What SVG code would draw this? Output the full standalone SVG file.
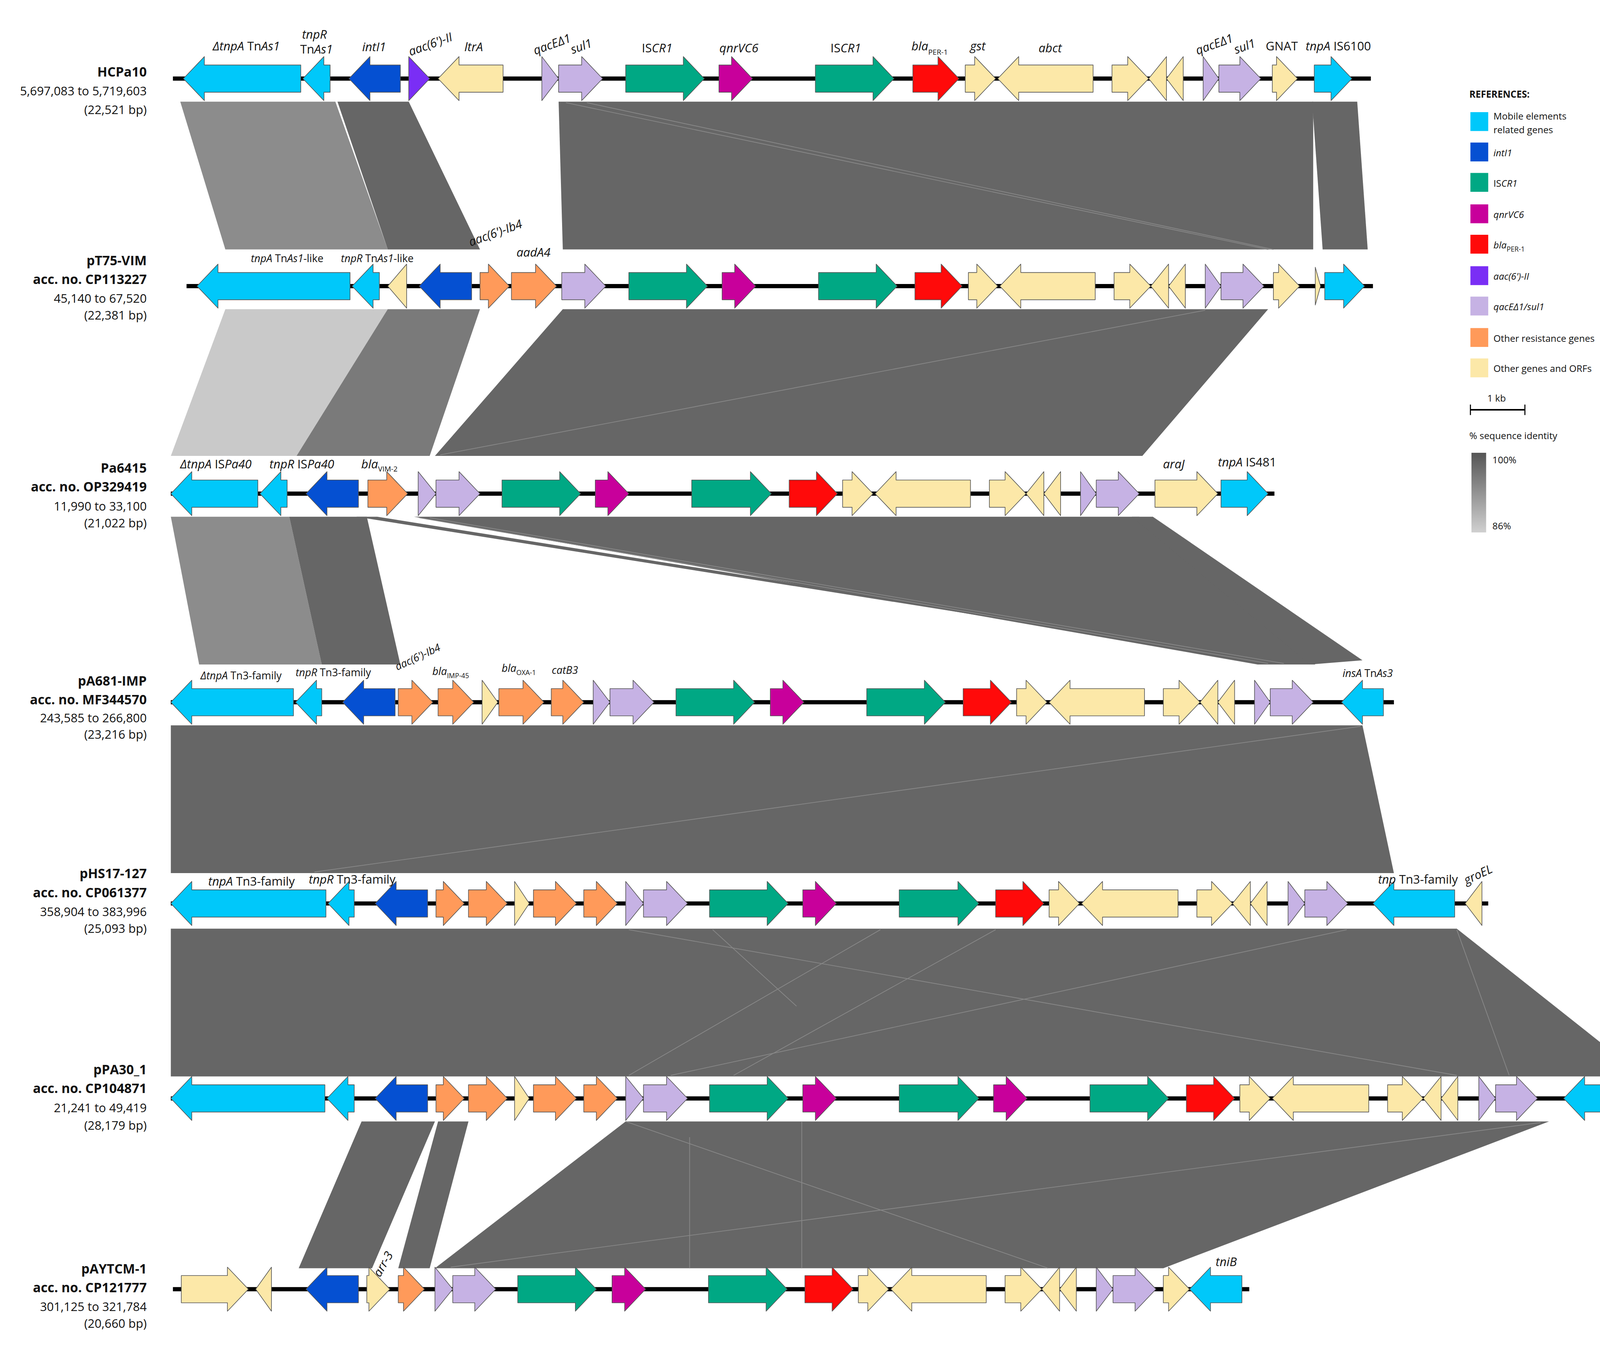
<svg xmlns="http://www.w3.org/2000/svg" width="4207" height="3443" viewBox="0 0 4207 3443">
<style>
text{font-family:"Open Sans","Liberation Sans",sans-serif;fill:#111}
.n{font-size:12.5px;font-weight:bold;text-anchor:end}
.c{font-size:11.5px;text-anchor:end}
.g{font-size:11.5px;font-style:italic;text-anchor:middle}
.gs{font-size:10px;font-style:italic;text-anchor:middle}
.u{font-style:normal}
.l{font-size:9px}
polygon{stroke:#555;stroke-width:0.6;stroke-linejoin:round}
.cy{fill:#00C8FA}.bl{fill:#0550D2}.gr{fill:#00A884}.mg{fill:#C8009B}.rd{fill:#FF0A0A}.pu{fill:#7A2EF5}.lv{fill:#C6B2E4}.or{fill:#FF9A5A}.cr{fill:#FCE8A8}
.bd{fill:#666;stroke:none}.bm{fill:#7a7a7a;stroke:none}.bl2{fill:#8c8c8c;stroke:none}.bl3{fill:#c9c9c9;stroke:none}
.thin{stroke:#888;stroke-width:0.7;fill:none}
.trk{stroke:#000;stroke-width:4}
</style>
<defs><linearGradient id="idg" x1="0" y1="0" x2="0" y2="1"><stop offset="0" stop-color="#555"/><stop offset="1" stop-color="#d0d0d0"/></linearGradient></defs>
<rect width="4207" height="3443" fill="#fff"/>
<g transform="scale(2.683)">
<g id="connectors">
<polygon class="bl2" points="172,97 320,97 370,238 215,238"/>
<polygon class="bd" points="322,97 390,97 458,238 370,238"/>
<polygon class="bd" points="533,97 1253,97 1253,238 537,238"/>
<line class="thin" x1="540" y1="98" x2="1210" y2="238"/>
<line class="thin" x1="560" y1="98" x2="1215" y2="238"/>
<polygon class="bd" points="1252,97 1295,97 1305,238 1262,238"/>
<polygon class="bl3" points="215,295 370,295 300,435 163,435"/>
<polygon class="bm" points="370,295 458,295 410,435 283,435"/>
<polygon class="bd" points="537,295 1210,295 1090,435 415,435"/>
<line class="thin" x1="1150" y1="296" x2="420" y2="434"/>
<polygon class="bl2" points="163,493 276,493 307,634 190,634"/>
<polygon class="bd" points="276,493 350,493 382,634 307,634"/>
<polygon class="bd" points="340,493 360,493 1245,634 1230,634"/>
<polygon class="bd" points="395,493 1087,493 1255,634 1200,634"/>
<polygon class="bd" points="1080,493 1100,493 1300,630 1250,634"/>
<line class="thin" x1="400" y1="494" x2="1210" y2="633"/>
<line class="thin" x1="410" y1="494" x2="1225" y2="633"/>
<polygon class="bd" points="163,692 1300,692 1330,833 163,833"/>
<line class="thin" x1="1298" y1="693" x2="300" y2="832"/>
<polygon class="bd" points="163,886 1390,886 1568,1027 163,1027"/>
<line class="thin" x1="600" y1="887" x2="1390" y2="1026"/>
<line class="thin" x1="680" y1="887" x2="760" y2="960"/>
<line class="thin" x1="840" y1="887" x2="600" y2="1026"/>
<line class="thin" x1="950" y1="887" x2="700" y2="1026"/>
<line class="thin" x1="1285" y1="887" x2="640" y2="1026"/>
<line class="thin" x1="1390" y1="887" x2="1440" y2="1026"/>
<polygon class="bd" points="345,1070 415,1070 355,1210 285,1210"/>
<polygon class="bd" points="418,1070 447,1070 410,1210 380,1210"/>
<polygon class="bd" points="597,1070 1478,1070 1110,1210 415,1210"/>
<line class="thin" x1="658" y1="1085" x2="658" y2="1210"/>
<line class="thin" x1="765" y1="1070" x2="765" y2="1210"/>
<line class="thin" x1="597" y1="1070" x2="1000" y2="1210"/>
<line class="thin" x1="1470" y1="1071" x2="430" y2="1209"/>
</g>

<g id="track1">
<line class="trk" x1="165" y1="75" x2="1308" y2="75"/>
<polygon class="cy" points="287,62 195,62 195,54 175,75 195,96 195,88 287,88"/>
<polygon class="cy" points="315,62 309,62 309,54 289,75 309,96 309,88 315,88"/>
<polygon class="bl" points="382,62 353,62 353,54 333,75 353,96 353,88 382,88"/>
<polygon class="pu" points="390,54 410,75 390,96"/>
<polygon class="cr" points="480,62 438,62 438,54 418,75 438,96 438,88 480,88"/>
<polygon class="lv" points="517,54 533,75 517,96"/>
<polygon class="lv" points="533,62 555,62 555,54 575,75 555,96 555,88 533,88"/>
<polygon class="gr" points="597,62 652,62 652,54 672,75 652,96 652,88 597,88"/>
<polygon class="mg" points="686,62 698,62 698,54 718,75 698,96 698,88 686,88"/>
<polygon class="gr" points="778,62 833,62 833,54 853,75 833,96 833,88 778,88"/>
<polygon class="rd" points="871,62 895,62 895,54 915,75 895,96 895,88 871,88"/>
<polygon class="cr" points="921,62 930,62 930,54 950,75 930,96 930,88 921,88"/>
<polygon class="cr" points="1043,62 972,62 972,54 952,75 972,96 972,88 1043,88"/>
<polygon class="cr" points="1061,62 1076,62 1076,54 1096,75 1076,96 1076,88 1061,88"/>
<polygon class="cr" points="1113,54 1096,75 1113,96"/>
<polygon class="cr" points="1129,54 1113,75 1129,96"/>
<polygon class="lv" points="1148,54 1163,75 1148,96"/>
<polygon class="lv" points="1163,62 1183,62 1183,54 1203,75 1183,96 1183,88 1163,88"/>
<polygon class="cr" points="1214,62 1218,62 1218,54 1238,75 1218,96 1218,88 1214,88"/>
<polygon class="cy" points="1254,62 1270,62 1270,54 1290,75 1270,96 1270,88 1254,88"/>
<text class="n" x="140" y="73">HCPa10</text>
<text class="c" x="140" y="91">5,697,083 to 5,719,603</text>
<text class="c" x="140" y="109">(22,521 bp)</text>
<text class="g" x="235" y="48">ΔtnpA <tspan class="u">Tn</tspan>As1</text>
<text class="g" x="300" y="37">tnpR</text><text class="g" x="302" y="51"><tspan class="u">Tn</tspan>As1</text>
<text class="g" x="357" y="49">intI1</text>
<text class="g" transform="translate(412,46) rotate(-20)">aac(6')-II</text>
<text class="g" x="452" y="49">ltrA</text>
<text class="g" transform="translate(528,46) rotate(-20)">qacEΔ1</text>
<text class="g" transform="translate(556,48) rotate(-20)">sul1</text>
<text class="g" x="627" y="50"><tspan class="u">IS</tspan>CR1</text>
<text class="g" x="705" y="50">qnrVC6</text>
<text class="g" x="807" y="50"><tspan class="u">IS</tspan>CR1</text>
<text class="g" x="887" y="48">bla<tspan font-size="7" dy="4" class="u">PER-1</tspan></text>
<text class="g" x="933" y="48">gst</text>
<text class="g" x="1002" y="50">abct</text>
<text class="g" transform="translate(1160,46) rotate(-20)">qacEΔ1</text>
<text class="g" transform="translate(1189,48) rotate(-20)">sul1</text>
<text class="g" x="1223" y="48"><tspan class="u">GNAT</tspan></text>
<text class="g" x="1277" y="48">tnpA <tspan class="u">IS6100</tspan></text>
</g>

<g id="track2">
<line class="trk" x1="178" y1="273" x2="1310" y2="273"/>
<polygon class="cy" points="334,260 208,260 208,252 188,273 208,294 208,286 334,286"/>
<polygon class="cy" points="362,260 356,260 356,252 336,273 356,294 356,286 362,286"/>
<polygon class="cr" points="388,252 370,273 388,294"/>
<polygon class="bl" points="450,260 420,260 420,252 400,273 420,294 420,286 450,286"/>
<polygon class="or" points="458,260 466,260 466,252 486,273 466,294 466,286 458,286"/>
<polygon class="or" points="488,260 511,260 511,252 531,273 511,294 511,286 488,286"/>
<polygon class="lv" points="536,260 558,260 558,252 578,273 558,294 558,286 536,286"/>
<polygon class="gr" points="600,260 655,260 655,252 675,273 655,294 655,286 600,286"/>
<polygon class="mg" points="689,260 701,260 701,252 721,273 701,294 701,286 689,286"/>
<polygon class="gr" points="781,260 836,260 836,252 856,273 836,294 836,286 781,286"/>
<polygon class="rd" points="873,260 898,260 898,252 918,273 898,294 898,286 873,286"/>
<polygon class="cr" points="924,260 932,260 932,252 952,273 932,294 932,286 924,286"/>
<polygon class="cr" points="1045,260 974,260 974,252 954,273 974,294 974,286 1045,286"/>
<polygon class="cr" points="1063,260 1078,260 1078,252 1098,273 1078,294 1078,286 1063,286"/>
<polygon class="cr" points="1115,252 1098,273 1115,294"/>
<polygon class="cr" points="1131,252 1115,273 1131,294"/>
<polygon class="lv" points="1150,252 1165,273 1150,294"/>
<polygon class="lv" points="1165,260 1186,260 1186,252 1206,273 1186,294 1186,286 1165,286"/>
<polygon class="cr" points="1215,260 1220,260 1220,252 1240,273 1220,294 1220,286 1215,286"/>
<polygon class="cr" points="1255,255 1260,273 1255,291"/>
<polygon class="cy" points="1264,260 1282,260 1282,252 1302,273 1282,294 1282,286 1264,286"/>
<text class="n" x="140" y="253">pT75-VIM</text>
<text class="n" x="140" y="271">acc. no. CP113227</text>
<text class="c" x="140" y="289">45,140 to 67,520</text>
<text class="c" x="140" y="305">(22,381 bp)</text>
<text class="gs" x="274" y="250">tnpA <tspan class="u">Tn</tspan>As1<tspan class="u">-like</tspan></text>
<text class="gs" x="360" y="250">tnpR <tspan class="u">Tn</tspan>As1<tspan class="u">-like</tspan></text>
<text class="g" transform="translate(474,226) rotate(-20)">aac(6')-Ib4</text>
<text class="g" x="509" y="245">aadA4</text>
</g>

<g id="track3">
<line class="trk" x1="163" y1="471" x2="1216" y2="471"/>
<polygon class="cy" points="246,458 183,458 183,450 163,471 183,492 183,484 246,484"/>
<polygon class="cy" points="274,458 268,458 268,450 248,471 268,492 268,484 274,484"/>
<polygon class="bl" points="342,458 312,458 312,450 292,471 312,492 312,484 342,484"/>
<polygon class="or" points="351,458 369,458 369,450 389,471 369,492 369,484 351,484"/>
<polygon class="lv" points="399,450 416,471 399,492"/>
<polygon class="lv" points="416,458 438,458 438,450 458,471 438,492 438,484 416,484"/>
<polygon class="gr" points="479,458 534,458 534,450 554,471 534,492 534,484 479,484"/>
<polygon class="mg" points="568,458 580,458 580,450 600,471 580,492 580,484 568,484"/>
<polygon class="gr" points="660,458 716,458 716,450 736,471 716,492 716,484 660,484"/>
<polygon class="rd" points="753,458 779,458 779,450 799,471 779,492 779,484 753,484"/>
<polygon class="cr" points="804,458 813,458 813,450 833,471 813,492 813,484 804,484"/>
<polygon class="cr" points="926,458 855,458 855,450 835,471 855,492 855,484 926,484"/>
<polygon class="cr" points="944,458 959,458 959,450 979,471 959,492 959,484 944,484"/>
<polygon class="cr" points="996,450 979,471 996,492"/>
<polygon class="cr" points="1012,450 996,471 1012,492"/>
<polygon class="lv" points="1031,450 1046,471 1031,492"/>
<polygon class="lv" points="1046,458 1067,458 1067,450 1087,471 1067,492 1067,484 1046,484"/>
<polygon class="cr" points="1102,458 1142,458 1142,450 1162,471 1142,492 1142,484 1102,484"/>
<polygon class="cy" points="1165,458 1190,458 1190,450 1210,471 1190,492 1190,484 1165,484"/>
<text class="n" x="140" y="451">Pa6415</text>
<text class="n" x="140" y="469">acc. no. OP329419</text>
<text class="c" x="140" y="487">11,990 to 33,100</text>
<text class="c" x="140" y="503">(21,022 bp)</text>
<text class="g" x="206" y="447">ΔtnpA <tspan class="u">IS</tspan>Pa40</text>
<text class="g" x="288" y="447">tnpR <tspan class="u">IS</tspan>Pa40</text>
<text class="g" x="362" y="447">bla<tspan font-size="7" dy="3" class="u">VIM-2</tspan></text>
<text class="g" x="1120" y="447">araJ</text>
<text class="g" x="1190" y="445">tnpA <tspan class="u">IS481</tspan></text>
</g>

<g id="track4">
<line class="trk" x1="163" y1="670" x2="1330" y2="670"/>
<polygon class="cy" points="280,657 183,657 183,649 163,670 183,691 183,683 280,683"/>
<polygon class="cy" points="307,657 302,657 302,649 282,670 302,691 302,683 307,683"/>
<polygon class="bl" points="377,657 347,657 347,649 327,670 347,691 347,683 377,683"/>
<polygon class="or" points="380,657 393,657 393,649 413,670 393,691 393,683 380,683"/>
<polygon class="or" points="418,657 432,657 432,649 452,670 432,691 432,683 418,683"/>
<polygon class="cr" points="460,649 475,670 460,691"/>
<polygon class="or" points="476,657 499,657 499,649 519,670 499,691 499,683 476,683"/>
<polygon class="or" points="526,657 537,657 537,649 557,670 537,691 537,683 526,683"/>
<polygon class="lv" points="566,649 582,670 566,691"/>
<polygon class="lv" points="582,657 604,657 604,649 624,670 604,691 604,683 582,683"/>
<polygon class="gr" points="645,657 700,657 700,649 720,670 700,691 700,683 645,683"/>
<polygon class="mg" points="735,657 747,657 747,649 767,670 747,691 747,683 735,683"/>
<polygon class="gr" points="827,657 882,657 882,649 902,670 882,691 882,683 827,683"/>
<polygon class="rd" points="919,657 945,657 945,649 965,670 945,691 945,683 919,683"/>
<polygon class="cr" points="970,657 979,657 979,649 999,670 979,691 979,683 970,683"/>
<polygon class="cr" points="1092,657 1021,657 1021,649 1001,670 1021,691 1021,683 1092,683"/>
<polygon class="cr" points="1110,657 1125,657 1125,649 1145,670 1125,691 1125,683 1110,683"/>
<polygon class="cr" points="1162,649 1145,670 1162,691"/>
<polygon class="cr" points="1178,649 1162,670 1178,691"/>
<polygon class="lv" points="1197,649 1212,670 1197,691"/>
<polygon class="lv" points="1212,657 1233,657 1233,649 1253,670 1233,691 1233,683 1212,683"/>
<polygon class="cy" points="1320,657 1300,657 1300,649 1280,670 1300,691 1300,683 1320,683"/>
<text class="n" x="140" y="654">pA681-IMP</text>
<text class="n" x="140" y="672">acc. no. MF344570</text>
<text class="c" x="140" y="689">243,585 to 266,800</text>
<text class="c" x="140" y="705">(23,216 bp)</text>
<text class="gs" x="230" y="648">ΔtnpA <tspan class="u">Tn3-family</tspan></text>
<text class="gs" x="318" y="645">tnpR <tspan class="u">Tn3-family</tspan></text>
<text class="gs" transform="translate(400,630) rotate(-25)">aac(6')-Ib4</text>
<text class="gs" x="430" y="644">bla<tspan font-size="6.5" dy="3" class="u">IMP-45</tspan></text>
<text class="gs" x="495" y="641">bla<tspan font-size="6.5" dy="3" class="u">OXA-1</tspan></text>
<text class="gs" x="539" y="643">catB3</text>
<text class="gs" x="1305" y="646">insA <tspan class="u">Tn</tspan>As3</text>
</g>

<g id="track5">
<line class="trk" x1="163" y1="862" x2="1420" y2="862"/>
<polygon class="cy" points="311,849 183,849 183,841 163,862 183,883 183,875 311,875"/>
<polygon class="cy" points="338,849 333,849 333,841 313,862 333,883 333,875 338,875"/>
<polygon class="bl" points="408,849 378,849 378,841 358,862 378,883 378,875 408,875"/>
<polygon class="or" points="416,849 423,849 423,841 443,862 423,883 423,875 416,875"/>
<polygon class="or" points="447,849 464,849 464,841 484,862 464,883 464,875 447,875"/>
<polygon class="cr" points="491,841 505,862 491,883"/>
<polygon class="or" points="509,849 530,849 530,841 550,862 530,883 530,875 509,875"/>
<polygon class="or" points="557,849 569,849 569,841 589,862 569,883 569,875 557,875"/>
<polygon class="lv" points="597,841 614,862 597,883"/>
<polygon class="lv" points="614,849 636,849 636,841 656,862 636,883 636,875 614,875"/>
<polygon class="gr" points="677,849 732,849 732,841 752,862 732,883 732,875 677,875"/>
<polygon class="mg" points="766,849 778,849 778,841 798,862 778,883 778,875 766,875"/>
<polygon class="gr" points="858,849 914,849 914,841 934,862 914,883 914,875 858,875"/>
<polygon class="rd" points="950,849 976,849 976,841 996,862 976,883 976,875 950,875"/>
<polygon class="cr" points="1001,849 1010,849 1010,841 1030,862 1010,883 1010,875 1001,875"/>
<polygon class="cr" points="1124,849 1052,849 1052,841 1032,862 1052,883 1052,875 1124,875"/>
<polygon class="cr" points="1142,849 1156,849 1156,841 1176,862 1156,883 1156,875 1142,875"/>
<polygon class="cr" points="1193,841 1176,862 1193,883"/>
<polygon class="cr" points="1209,841 1193,862 1209,883"/>
<polygon class="lv" points="1229,841 1245,862 1229,883"/>
<polygon class="lv" points="1245,849 1266,849 1266,841 1286,862 1266,883 1266,875 1245,875"/>
<polygon class="cy" points="1388,849 1330,849 1330,841 1310,862 1330,883 1330,875 1388,875"/>
<polygon class="cr" points="1414,841 1398,862 1414,883"/>
<text class="n" x="140" y="838">pHS17-127</text>
<text class="n" x="140" y="856">acc. no. CP061377</text>
<text class="c" x="140" y="874">358,904 to 383,996</text>
<text class="c" x="140" y="890">(25,093 bp)</text>
<text class="g" x="240" y="845">tnpA <tspan class="u">Tn3-family</tspan></text>
<text class="g" x="336" y="843">tnpR <tspan class="u">Tn3-family</tspan></text>
<text class="g" x="1353" y="843">tnp <tspan class="u">Tn3-family</tspan></text>
<text class="g" transform="translate(1412,838) rotate(-25)">groEL</text>
</g>

<g id="track6">
<line class="trk" x1="163" y1="1048" x2="1568" y2="1048"/>
<polygon class="cy" points="310,1035 183,1035 183,1027 163,1048 183,1069 183,1061 310,1061"/>
<polygon class="cy" points="338,1035 332,1035 332,1027 312,1048 332,1069 332,1061 338,1061"/>
<polygon class="bl" points="408,1035 378,1035 378,1027 358,1048 378,1069 378,1061 408,1061"/>
<polygon class="or" points="416,1035 423,1035 423,1027 443,1048 423,1069 423,1061 416,1061"/>
<polygon class="or" points="447,1035 464,1035 464,1027 484,1048 464,1069 464,1061 447,1061"/>
<polygon class="cr" points="491,1027 505,1048 491,1069"/>
<polygon class="or" points="509,1035 530,1035 530,1027 550,1048 530,1069 530,1061 509,1061"/>
<polygon class="or" points="557,1035 569,1035 569,1027 589,1048 569,1069 569,1061 557,1061"/>
<polygon class="lv" points="597,1027 614,1048 597,1069"/>
<polygon class="lv" points="614,1035 636,1035 636,1027 656,1048 636,1069 636,1061 614,1061"/>
<polygon class="gr" points="677,1035 732,1035 732,1027 752,1048 732,1069 732,1061 677,1061"/>
<polygon class="mg" points="766,1035 778,1035 778,1027 798,1048 778,1069 778,1061 766,1061"/>
<polygon class="gr" points="858,1035 914,1035 914,1027 934,1048 914,1069 914,1061 858,1061"/>
<polygon class="mg" points="948,1035 960,1035 960,1027 980,1048 960,1069 960,1061 948,1061"/>
<polygon class="gr" points="1040,1035 1095,1035 1095,1027 1115,1048 1095,1069 1095,1061 1040,1061"/>
<polygon class="rd" points="1132,1035 1158,1035 1158,1027 1178,1048 1158,1069 1158,1061 1132,1061"/>
<polygon class="cr" points="1183,1035 1192,1035 1192,1027 1212,1048 1192,1069 1192,1061 1183,1061"/>
<polygon class="cr" points="1306,1035 1234,1035 1234,1027 1214,1048 1234,1069 1234,1061 1306,1061"/>
<polygon class="cr" points="1324,1035 1338,1035 1338,1027 1358,1048 1338,1069 1338,1061 1324,1061"/>
<polygon class="cr" points="1375,1027 1358,1048 1375,1069"/>
<polygon class="cr" points="1391,1027 1375,1048 1391,1069"/>
<polygon class="lv" points="1411,1027 1427,1048 1411,1069"/>
<polygon class="lv" points="1427,1035 1447,1035 1447,1027 1467,1048 1447,1069 1447,1061 1427,1061"/>
<polygon class="cy" points="1568,1035 1512,1035 1512,1027 1492,1048 1512,1069 1512,1061 1568,1061"/>
<text class="n" x="140" y="1025">pPA30_1</text>
<text class="n" x="140" y="1043">acc. no. CP104871</text>
<text class="c" x="140" y="1061">21,241 to 49,419</text>
<text class="c" x="140" y="1078">(28,179 bp)</text>
</g>

<g id="track7">
<line class="trk" x1="165" y1="1230" x2="1192" y2="1230"/>
<polygon class="cr" points="173,1217 217,1217 217,1209 237,1230 217,1251 217,1243 173,1243"/>
<polygon class="cr" points="259,1209 244,1230 259,1251"/>
<polygon class="bl" points="342,1217 312,1217 312,1209 292,1230 312,1251 312,1243 342,1243"/>
<polygon class="cr" points="350,1217 352,1217 352,1209 372,1230 352,1251 352,1243 350,1243"/>
<polygon class="or" points="380,1217 385,1217 385,1209 405,1230 385,1251 385,1243 380,1243"/>
<polygon class="lv" points="415,1209 432,1230 415,1251"/>
<polygon class="lv" points="432,1217 453,1217 453,1209 473,1230 453,1251 453,1243 432,1243"/>
<polygon class="gr" points="494,1217 549,1217 549,1209 569,1230 549,1251 549,1243 494,1243"/>
<polygon class="mg" points="584,1217 596,1217 596,1209 616,1230 596,1251 596,1243 584,1243"/>
<polygon class="gr" points="676,1217 731,1217 731,1209 751,1230 731,1251 731,1243 676,1243"/>
<polygon class="rd" points="768,1217 794,1217 794,1209 814,1230 794,1251 794,1243 768,1243"/>
<polygon class="cr" points="819,1217 828,1217 828,1209 848,1230 828,1251 828,1243 819,1243"/>
<polygon class="cr" points="941,1217 870,1217 870,1209 850,1230 870,1251 870,1243 941,1243"/>
<polygon class="cr" points="959,1217 974,1217 974,1209 994,1230 974,1251 974,1243 959,1243"/>
<polygon class="cr" points="1011,1209 994,1230 1011,1251"/>
<polygon class="cr" points="1027,1209 1011,1230 1027,1251"/>
<polygon class="lv" points="1046,1209 1062,1230 1046,1251"/>
<polygon class="lv" points="1062,1217 1083,1217 1083,1209 1103,1230 1083,1251 1083,1243 1062,1243"/>
<polygon class="cr" points="1110,1217 1115,1217 1115,1209 1135,1230 1115,1251 1115,1243 1110,1243"/>
<polygon class="cy" points="1185,1217 1155,1217 1155,1209 1135,1230 1155,1251 1155,1243 1185,1243"/>
<text class="n" x="140" y="1215">pAYTCM-1</text>
<text class="n" x="140" y="1233">acc. no. CP121777</text>
<text class="c" x="140" y="1251">301,125 to 321,784</text>
<text class="c" x="140" y="1267">(20,660 bp)</text>
<text class="g" transform="translate(369,1208) rotate(-60)">arr-3</text>
<text class="g" x="1170" y="1208">tniB</text>
</g>

<g id="legend" transform="translate(-10,0)">
<text x="1412" y="93" style="font-size:9px;font-weight:bold">REFERENCES:</text>
<rect class="cy" x="1413" y="107" width="17" height="18"/>
<text class="l" x="1435" y="114">Mobile elements</text><text class="l" x="1435" y="127">related genes</text>
<rect class="bl" x="1413" y="136" width="17" height="18"/><text class="l" x="1435" y="149" font-style="italic">intI1</text>
<rect class="gr" x="1413" y="165" width="17" height="18"/><text class="l" x="1435" y="178"><tspan>IS</tspan><tspan font-style="italic">CR1</tspan></text>
<rect class="mg" x="1413" y="195" width="17" height="18"/><text class="l" x="1435" y="208" font-style="italic">qnrVC6</text>
<rect class="rd" x="1413" y="224" width="17" height="18"/><text class="l" x="1435" y="237"><tspan font-style="italic">bla</tspan><tspan font-size="6.5" dy="3">PER-1</tspan></text>
<rect class="pu" x="1413" y="254" width="17" height="18"/><text class="l" x="1435" y="267" font-style="italic">aac(6')-II</text>
<rect class="lv" x="1413" y="283" width="17" height="18"/><text class="l" x="1435" y="296" font-style="italic">qacEΔ1/sul1</text>
<rect class="or" x="1413" y="313" width="17" height="18"/><text class="l" x="1435" y="326" font-size="8">Other resistance genes</text>
<rect class="cr" x="1413" y="342" width="17" height="18"/><text class="l" x="1435" y="355" font-size="8">Other genes and ORFs</text>
<text class="l" x="1438" y="383" text-anchor="middle">1 kb</text>
<line x1="1413" y1="391" x2="1465" y2="391" stroke="#000" stroke-width="1.5"/>
<line x1="1413" y1="386" x2="1413" y2="396" stroke="#000"/><line x1="1465" y1="386" x2="1465" y2="396" stroke="#000"/>
<text class="l" x="1412" y="419">% sequence identity</text>
<rect x="1414" y="432" width="14" height="76" fill="url(#idg)"/>
<text class="l" x="1434" y="442">100%</text>
<text class="l" x="1434" y="505">86%</text>
</g>
</g>
</svg>
